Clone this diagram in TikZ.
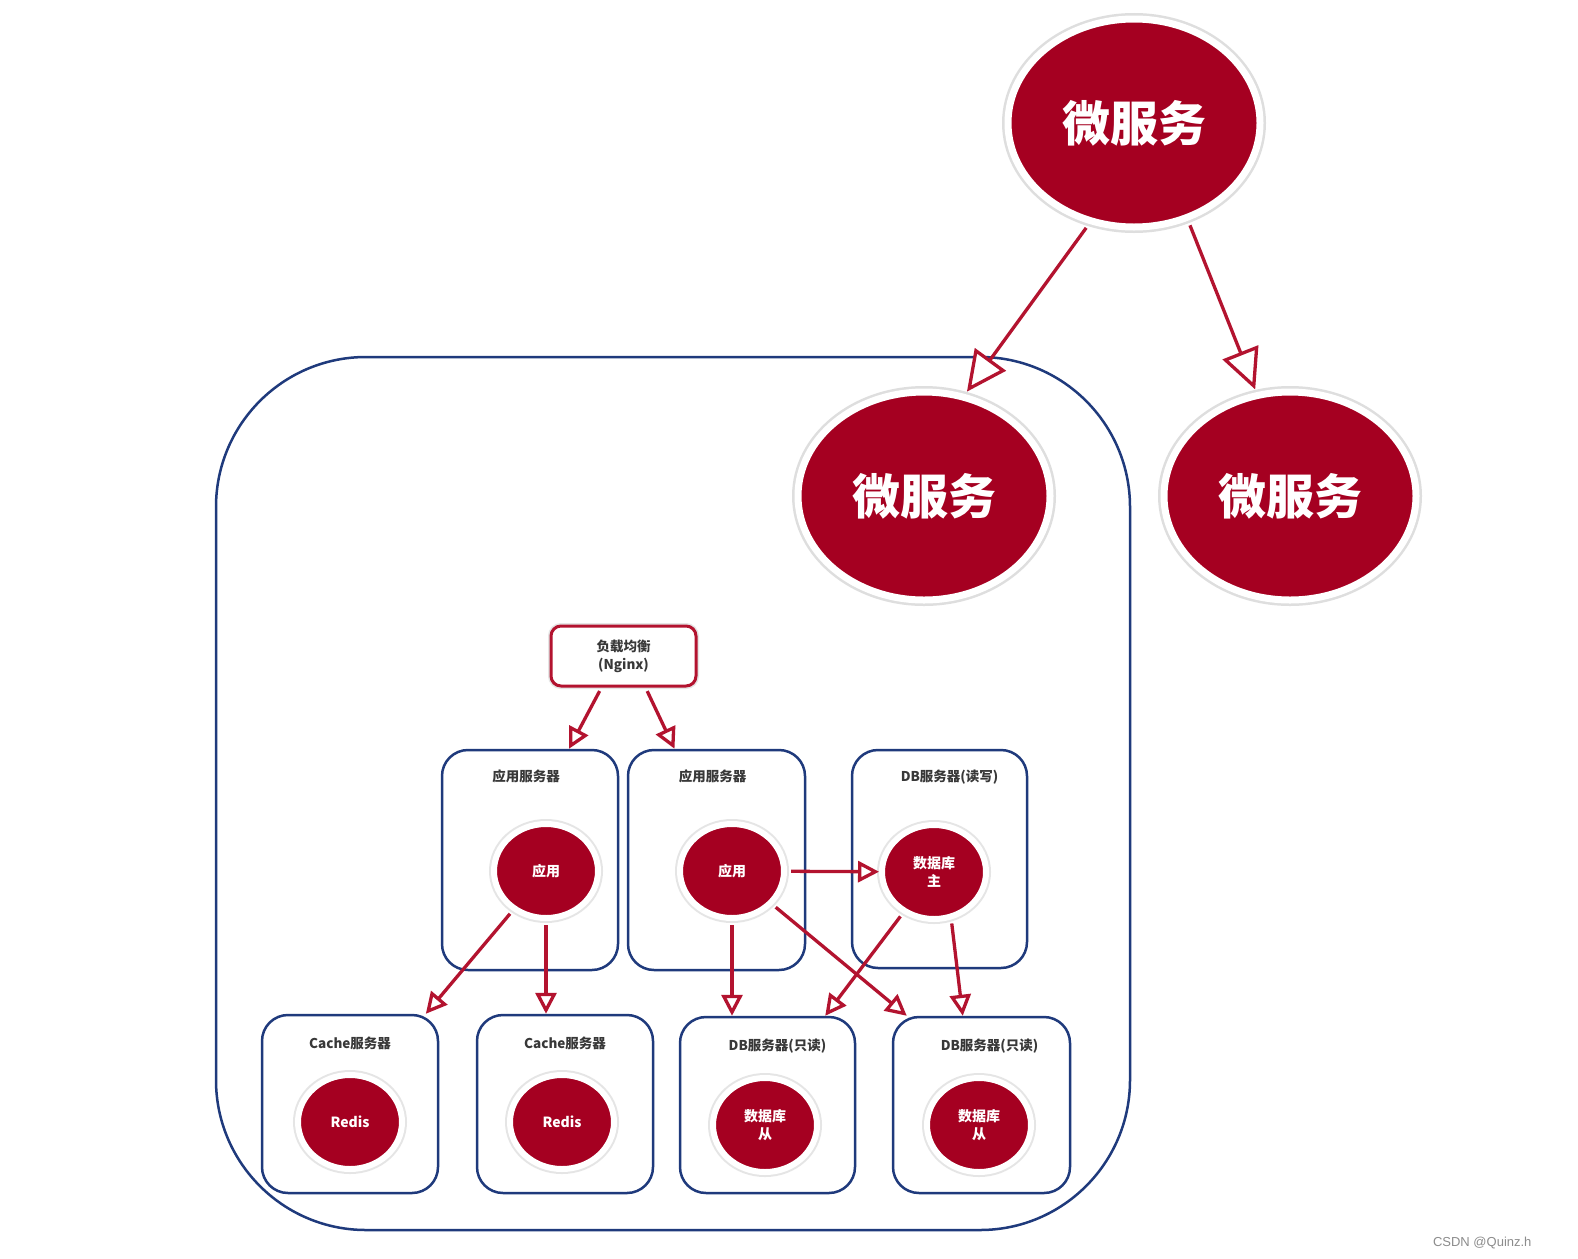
\documentclass[tikz,border=0pt]{standalone}
\usepackage{fontspec}
\setmainfont{Noto Sans CJK SC}
\newfontfamily\wmfont{Liberation Sans}
\usetikzlibrary{shapes.geometric,arrows.meta,calc}
\definecolor{dred}{HTML}{A50021}
\definecolor{ared}{HTML}{B3132F}
\definecolor{navy}{HTML}{1F3A7C}
\definecolor{lbltext}{HTML}{383838}
\begin{document}
\begin{tikzpicture}[x=1pt,y=-1pt,
 bigell/.style={ellipse, fill=dred, draw=white, line width=7pt, minimum width=252pt, minimum height=208pt, inner sep=0pt, text=white, font=\fontsize{48}{50}\selectfont\bfseries, preaction={draw=black!13, line width=12pt}},
 smell/.style={ellipse, fill=dred, draw=white, line width=6pt, minimum width=104pt, minimum height=94pt, inner sep=0pt, text=white, align=center, font=\fontsize{14}{18}\selectfont\bfseries, preaction={draw=black!10, line width=10pt}},
 srv/.style={draw=navy, line width=2.5pt, rounded corners=26pt, inner sep=0pt},
 lbl/.style={text=lbltext, font=\fontsize{13.5}{16}\selectfont\bfseries, inner sep=0pt},
 arr/.style={draw=ared, line width=3.3pt, -{Triangle[length=21pt,width=21pt,fill=white]}, shorten <=4pt},
 bigarr/.style={draw=ared, line width=3.3pt, -{Triangle[length=40pt,width=38pt,fill=white]}, shorten <=5pt, shorten >=3pt},
]
\useasboundingbox[fill=white] (0,0) rectangle (1578,1258);

% outer container
\node[draw=navy, line width=2.5pt, rounded corners=150pt, minimum width=914pt, minimum height=873pt] (outer) at (673,793.5) {};

% server boxes
\node[srv, minimum width=176pt, minimum height=220pt] (app1) at (530,860) {};
\node[srv, minimum width=177pt, minimum height=220pt] (app2) at (716.5,860) {};
\node[srv, minimum width=175pt, minimum height=218pt] (dbrw) at (939.5,859) {};
\node[srv, minimum width=176pt, minimum height=178pt] (cache1) at (350,1104) {};
\node[srv, minimum width=176pt, minimum height=178pt] (cache2) at (565,1104) {};
\node[srv, minimum width=175pt, minimum height=176pt] (dbro1) at (767.5,1105) {};
\node[srv, minimum width=177pt, minimum height=176pt] (dbro2) at (981.5,1105) {};

% box labels
\node[lbl] (l1) at ($(app1.north)+(-4,28)$) {应用服务器};
\node[lbl] (l2) at ($(app2.north)+(-4,28)$) {应用服务器};
\node[lbl] (l3) at ($(dbrw.north)+(10,28)$) {DB服务器(读写)};
\node[lbl] (l4) at ($(cache1.north)+(0,30)$) {Cache服务器};
\node[lbl] (l5) at ($(cache2.north)+(0,30)$) {Cache服务器};
\node[lbl] (l6) at ($(dbro1.north)+(10,30)$) {DB服务器(只读)};
\node[lbl] (l7) at ($(dbro2.north)+(8,30)$) {DB服务器(只读)};

% load balancer
\node[draw=ared, line width=3pt, rounded corners=10pt, minimum width=145pt, minimum height=60pt, align=center, font=\fontsize{13.5}{18}\selectfont\bfseries, text=lbltext, fill=white, preaction={draw=black!10, line width=6pt}] (ngx) at (623.5,656) {负载均衡\\(Nginx)};

% big ellipses
\node[bigell] (top) at (1134,123) {微服务};
\node[bigell] (midL) at (924,496) {微服务};
\node[bigell] (midR) at (1290,496) {微服务};

% small ellipses
\node[smell] (app1c) at (546,871) {应用};
\node[smell] (app2c) at (732,871) {应用};
\node[smell] (dbrwc) at (934,872) {数据库\\主};
\node[smell] (redis1) at (350,1122) {Redis};
\node[smell] (redis2) at (562,1122) {Redis};
\node[smell] (dbc1) at (765,1125) {数据库\\从};
\node[smell] (dbc2) at (979,1125) {数据库\\从};

% arrows
\draw[bigarr] (top.246) -- (midL.68);
\draw[bigarr] (top.-61) -- (midR.108);

\draw[arr] ($(ngx.south)+(-22,0)$) -- ($(app1.north)+(39,0)$);
\draw[arr] ($(ngx.south)+(22,0)$) -- ($(app2.north)+(-42,0)$);

\draw[arr] (app1c) -- (cache1);
\draw[arr] (app1c.south) -- (app1c.south |- cache2.north);
\draw[arr] (app2c) -- (dbrwc);
\draw[arr] (app2c.south) -- (app2c.south |- dbro1.north);
\draw[arr] (app2c) -- ($(dbro2.north west)+(15,0)$);
\draw[arr] (dbrwc) -- ($(dbro1.north east)+(-31,0)$);
\draw[arr] (dbrwc.-70) -- ($(dbro2.north west)+(71,0)$);

% watermark
\node[font=\wmfont\fontsize{13}{13}\selectfont, text=black!45, anchor=east] (wm) at (1535,1243) {CSDN @Quinz.h};
\end{tikzpicture}
\end{document}
